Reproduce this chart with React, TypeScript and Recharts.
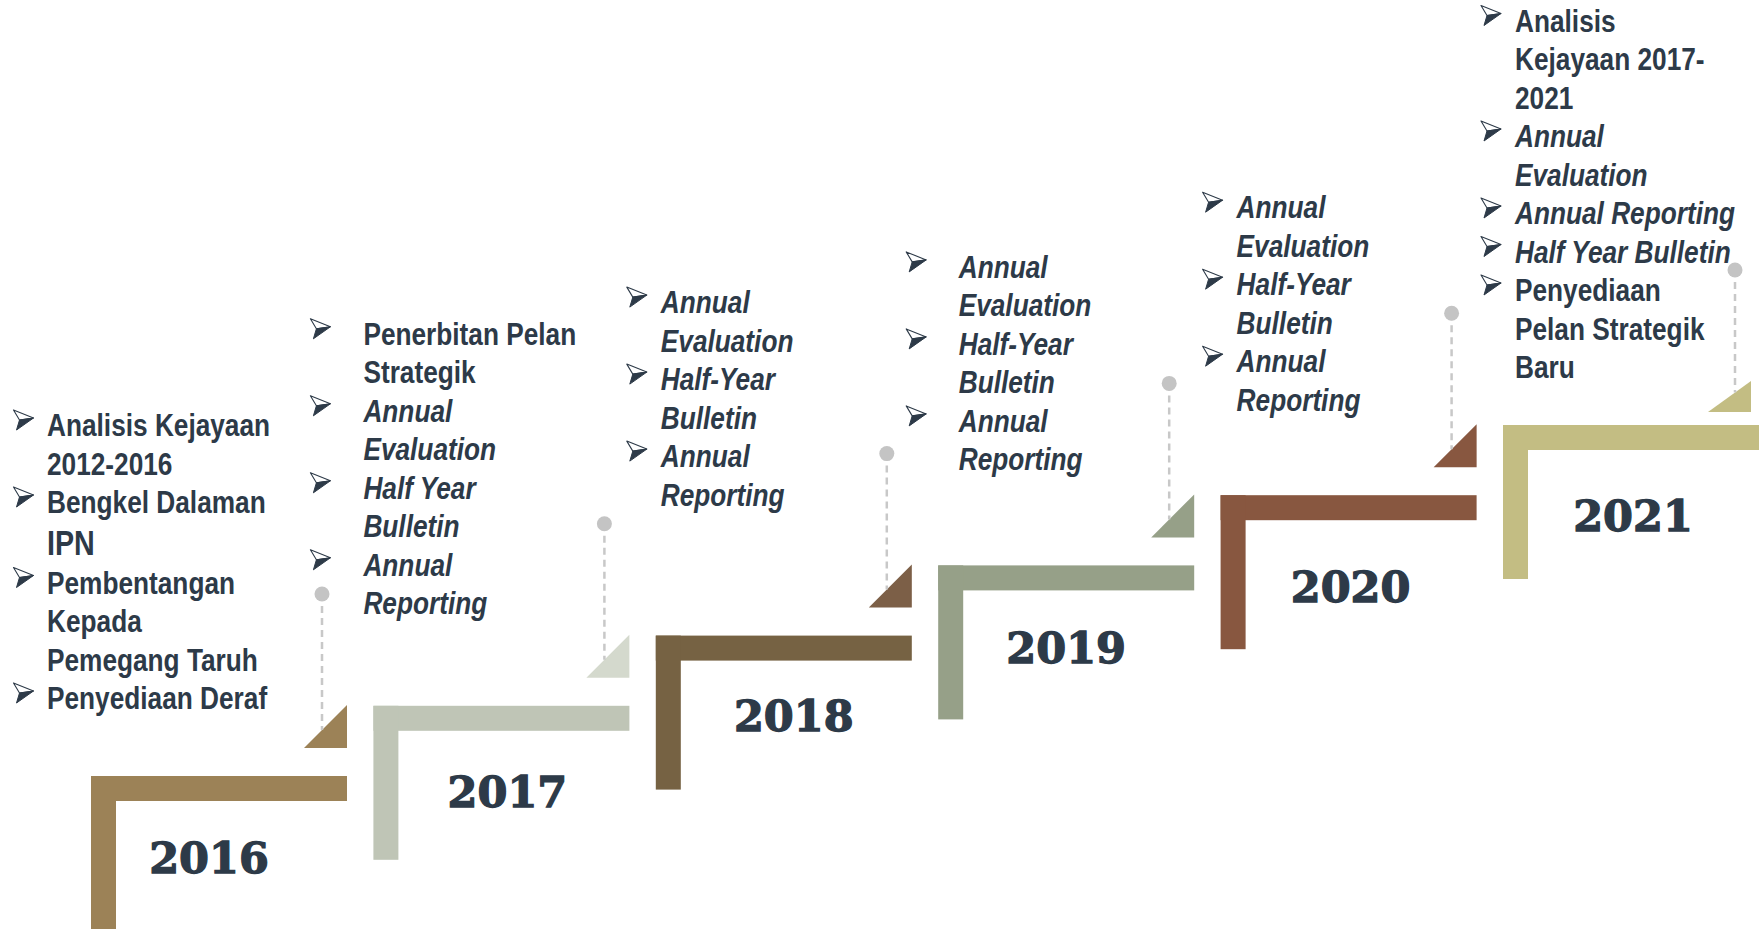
import React from "react";
import { ComposedChart, Scatter, XAxis, YAxis } from "recharts";

const W = 1762;
const H = 929;

// timeline content
const YEARS = ["2016", "2017", "2018", "2019", "2020", "2021"];
const STEPS = [0, 1, 2, 3, 4, 5];
const LEVELS = [0, 1, 2, 3, 4, 5];

const ITEMS_2016 = [
  ["Analisis Kejayaan", "2012-2016"],
  ["Bengkel Dalaman", "IPN"],
  ["Pembentangan", "Kepada", "Pemegang Taruh"],
  ["Penyediaan Deraf"],
];
const ITEMS_2017 = [
  ["Penerbitan Pelan", "Strategik"],
  ["Annual", "Evaluation"],
  ["Half Year", "Bulletin"],
  ["Annual", "Reporting"],
];
const ITEMS_2018 = [
  ["Annual", "Evaluation"],
  ["Half-Year", "Bulletin"],
  ["Annual", "Reporting"],
];
const ITEMS_2019 = [
  ["Annual", "Evaluation"],
  ["Half-Year", "Bulletin"],
  ["Annual", "Reporting"],
];
const ITEMS_2020 = [
  ["Annual", "Evaluation"],
  ["Half-Year", "Bulletin"],
  ["Annual", "Reporting"],
];
const ITEMS_2021 = [
  ["Analisis", "Kejayaan 2017-", "2021"],
  ["Annual", "Evaluation"],
  ["Annual Reporting"],
  ["Half Year Bulletin"],
  ["Penyediaan", "Pelan Strategik", "Baru"],
];
const ITEMS = [ITEMS_2016, ITEMS_2017, ITEMS_2018, ITEMS_2019, ITEMS_2020, ITEMS_2021];

// english terms are set in italic
const ITALIC = new Set([
  "Annual Evaluation",
  "Annual Reporting",
  "Half Year Bulletin",
  "Half-Year Bulletin",
]);
const BIG = new Set(["IPN"]);

const BAR_COLORS = ["#9c8257", "#bfc5b6", "#766243", "#96a088", "#885740", "#c3bd83"];
const TRI_COLORS = ["#9c8257", "#d4d9cd", "#7c5f47", "#96a088", "#885740", "#c3bd83"];
const INK = "#2d3a48";

// layout offsets, relative to the corner of each step
const BLOCK: any[] = [
  { textDx: -44, bulletDx: -77.5, firstDy: -340, yearDx: 118, yearDy: 96.5 },
  { textDx: -10, bulletDx: -63, firstDy: -361, yearDx: 134, yearDy: 101 },
  { textDx: 5, bulletDx: -29, firstDy: -322.5, yearDx: 138, yearDy: 95 },
  { textDx: 20.5, bulletDx: -32, firstDy: -287.5, yearDx: 128, yearDy: 97.5 },
  { textDx: 16, bulletDx: -18, firstDy: -277, yearDx: 130, yearDy: 106.5 },
  { textDx: 12, bulletDx: -22, firstDy: -393.5, yearDx: 130, yearDy: 105.5, triInset: 8, triH: 31, triGap: 13, dashInset: 16 },
];

// scale setup: one step = 282.4px across, 70.2px up
const PX_X = 282.4;
const PX_Y = 70.2;
const X0 = 91;
const Y0 = 776;
const xDomain = [-X0 / PX_X, (W - X0) / PX_X];
const yDomain = [-(H - Y0) / PX_Y, Y0 / PX_Y];

const data = YEARS.map((year, i) => ({
  year,
  step: STEPS[i],
  level: LEVELS[i],
  idx: i,
}));

const BAR_LEN = 256;
const BAR_T = 25;
const VERT_LEN = 154;
const TRI = 43;
const LINE_H = 38.5;
const FS = 32;
const SQUEEZE = 0.82;

function Bullet({ x, base }: { x: number; base: number }) {
  const top = `${x},${base - 26}`;
  const tip = `${x + 20},${base - 18}`;
  const notch = `${x + 6},${base - 16}`;
  const bot = `${x + 3},${base - 6}`;
  return (
    <g>
      <polygon points={`${top} ${tip} ${notch}`} fill="#fff" stroke={INK} strokeWidth={1.1} strokeLinejoin="round" />
      <polygon points={`${notch} ${tip} ${bot}`} fill={INK} stroke={INK} strokeWidth={1} strokeLinejoin="round" />
    </g>
  );
}

function Step(props: any) {
  const { cx, cy, payload } = props;
  const i = payload.idx;
  const b = BLOCK[i];
  const right = Math.min(cx + BAR_LEN, W);
  const triRight = right - (b.triInset ?? 0);
  const triBottom = cy - (b.triGap ?? 28);
  const triTop = triBottom - (b.triH ?? TRI);
  const dashX = triRight - (b.dashInset ?? 25);
  const circleY = triTop - 111;
  const slope = (b.triH ?? TRI) / TRI;
  const dashEnd = triBottom - (dashX - (triRight - TRI)) * slope;

  const lines: any[] = [];
  let y = cy + b.firstDy;
  ITEMS[i].forEach((entry: string[], ei: number) => {
    const italic = ITALIC.has(entry.join(" "));
    entry.forEach((txt, li) => {
      const big = BIG.has(txt);
      if (big) y += 3.5;
      lines.push(
        <g key={`${ei}-${li}`}>
          {li === 0 && <Bullet x={cx + b.bulletDx} base={y} />}
          <text
            transform={`translate(${cx + b.textDx},${y}) scale(${SQUEEZE},1)`}
            fontFamily="'Liberation Sans', Arial, sans-serif"
            fontWeight="bold"
            fontStyle={italic ? "italic" : "normal"}
            fontSize={big ? 35 : FS}
            fill={INK}
          >
            {txt}
          </text>
        </g>
      );
      y += LINE_H;
    });
  });

  return (
    <g>
      <rect x={cx} y={cy} width={right - cx} height={BAR_T} fill={BAR_COLORS[i]} />
      <rect x={cx} y={cy} width={BAR_T} height={VERT_LEN} fill={BAR_COLORS[i]} />
      <polygon
        points={`${triRight},${triTop} ${triRight},${triBottom} ${triRight - TRI},${triBottom}`}
        fill={TRI_COLORS[i]}
      />
      <line x1={dashX} y1={circleY} x2={dashX} y2={dashEnd} stroke="#c8c8c8" strokeWidth={2.5} strokeDasharray="7 5" />
      <circle cx={dashX} cy={circleY} r={7.5} fill="#c4c4c4" />
      <text
        x={cx + b.yearDx}
        y={cy + b.yearDy}
        textAnchor="middle"
        fontFamily="'DejaVu Serif', serif"
        fontWeight="bold"
        fontSize={43}
        stroke={INK}
        strokeWidth={1.3}
        fill={INK}
      >
        {payload.year}
      </text>
      {lines}
    </g>
  );
}

export default function App() {
  return (
    <div style={{ width: W, height: H, background: "#fff" }}>
      <style>{`body{margin:0}`}</style>
      <ComposedChart width={W} height={H} data={data} margin={{ top: 0, right: 0, bottom: 0, left: 0 }}>
        <XAxis type="number" dataKey="step" domain={xDomain} allowDataOverflow hide />
        <YAxis type="number" dataKey="level" domain={yDomain} allowDataOverflow hide />
        <Scatter data={data} shape={(p: any) => <Step {...p} />} isAnimationActive={false} />
      </ComposedChart>
    </div>
  );
}
